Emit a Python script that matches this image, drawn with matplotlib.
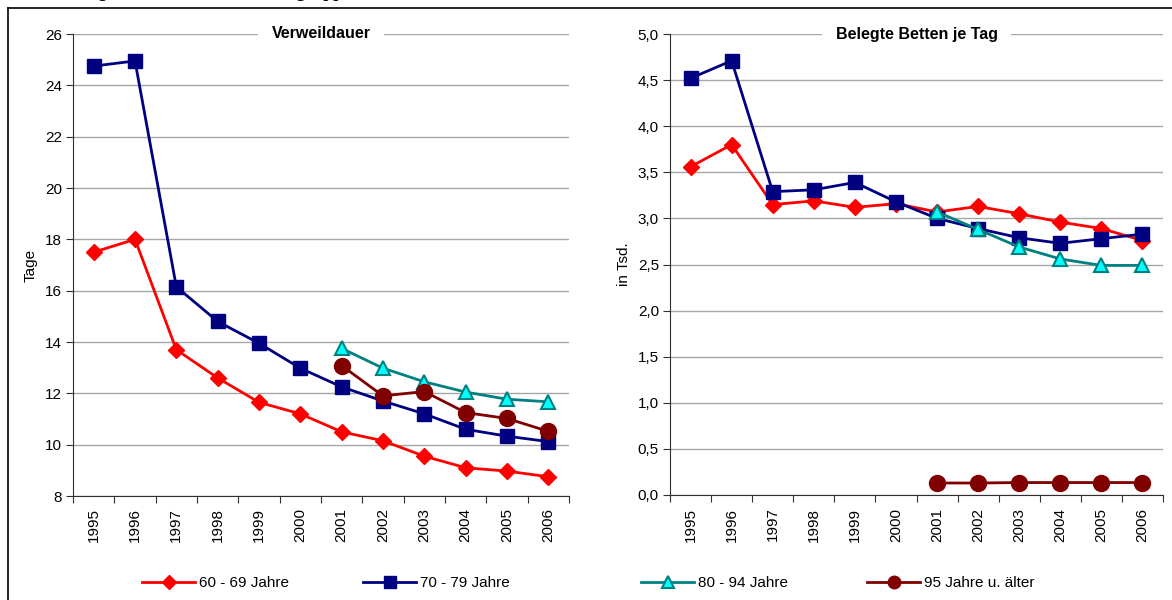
import matplotlib.pyplot as plt
from matplotlib.lines import Line2D
import numpy as np

plt.rcParams['font.family'] = ['Liberation Sans', 'DejaVu Sans']

years = ["1995", "1996", "1997", "1998", "1999", "2000",
         "2001", "2002", "2003", "2004", "2005", "2006"]

# Verweildauer (Tage)
vd_60 = [17.5, 18.0, 13.7, 12.6, 11.65, 11.2, 10.5, 10.15, 9.55, 9.1, 8.97, 8.75]
vd_70 = [24.75, 24.95, 16.15, 14.8, 13.95, 12.98, 12.25, 11.7, 11.2, 10.6, 10.33, 10.12]
vd_80 = [13.75, 12.98, 12.45, 12.05, 11.77, 11.67]
vd_95 = [13.08, 11.9, 12.07, 11.25, 11.02, 10.52]

# Belegte Betten je Tag (in Tsd.)
bb_60 = [3.56, 3.80, 3.15, 3.19, 3.12, 3.16, 3.07, 3.13, 3.05, 2.96, 2.89, 2.76]
bb_70 = [4.52, 4.71, 3.29, 3.31, 3.39, 3.18, 3.00, 2.89, 2.79, 2.73, 2.78, 2.83]
bb_80 = [3.07, 2.88, 2.69, 2.56, 2.49, 2.49]
bb_95 = [0.13, 0.13, 0.135, 0.135, 0.135, 0.135]

labels = ["60 - 69 Jahre", "70 - 79 Jahre", "80 - 94 Jahre", "95 Jahre u. älter"]

W, H = 1172, 600
fig = plt.figure(figsize=(W / 100, H / 100), dpi=100)


def px_axes(x0, x1, y0, y1):
    return fig.add_axes([x0 / W, 1 - y1 / H, (x1 - x0) / W, (y1 - y0) / H])


styles = [
    dict(color="#FF0000", marker="D", markerfacecolor="#FF0000",
         markeredgecolor="#FF0000"),
    dict(color="#000080", marker="s", markerfacecolor="#000080",
         markeredgecolor="#000080"),
    dict(color="#008080", marker="^", markerfacecolor="#00FFFF",
         markeredgecolor="#008080", markeredgewidth=1.5),
    dict(color="#800000", marker="o", markerfacecolor="#800000",
         markeredgecolor="#800000"),
]
plot_ms = [8.5, 9.5, 10.5, 11.5]
legend_ms = [7, 8, 8, 9]


def draw(ax, series, ylim, step, fmt, ylabel, title):
    x_all = np.arange(len(years))
    x_late = np.arange(6, 12)
    xs = [x_all, x_all, x_late, x_late]
    for x, y, st, ms in zip(xs, series, styles, plot_ms):
        ax.plot(x, y, linewidth=2, markersize=ms, **st, zorder=3, clip_on=False)
    ax.set_xlim(-0.5, len(years) - 0.5)
    ax.set_ylim(*ylim)
    ticks = np.arange(ylim[0], ylim[1] + step / 2, step)
    ax.set_yticks(ticks)
    ax.set_yticklabels([fmt(t) for t in ticks], fontsize=11)
    ax.set_xticks(np.arange(-0.5, len(years)), minor=False)
    ax.set_xticklabels([])
    ax.set_xticks(x_all, minor=True)
    ax.set_xticklabels(years, minor=True, rotation=90, fontsize=11)
    ax.tick_params(axis="x", which="minor", length=0, pad=9)
    ax.tick_params(axis="x", which="major", length=5, direction="out", color="#303030")
    ax.tick_params(axis="y", length=5, direction="out", color="#303030", pad=3)
    ax.grid(axis="y", color="#a6a6a6", linewidth=1)
    ax.set_axisbelow(True)
    for s in ["top", "right"]:
        ax.spines[s].set_visible(False)
    ax.spines["left"].set_color("#303030")
    ax.spines["bottom"].set_color("#303030")
    ax.set_ylabel(ylabel, fontsize=11, labelpad=5)
    ax.text(0.5, 1.0, title, transform=ax.transAxes, ha="center", va="center",
            fontsize=11.5, fontweight="bold",
            bbox=dict(facecolor="white", edgecolor="none", pad=10), zorder=5)


ax1 = px_axes(73, 569, 34, 496)
draw(ax1, [vd_60, vd_70, vd_80, vd_95], (8, 26), 2,
     lambda t: f"{t:.0f}", "Tage", "Verweildauer")

ax2 = px_axes(670, 1163, 34, 495)
draw(ax2, [bb_60, bb_70, bb_80, bb_95], (0, 5), 0.5,
     lambda t: f"{t:.1f}".replace(".", ","), "in Tsd.", "Belegte Betten je Tag")

# legend (bottom row), one entry per position
legend_x = [142, 363, 641, 867]
for st, ms, lab, lx in zip(styles, legend_ms, labels, legend_x):
    h = Line2D([0], [0], linewidth=2, markersize=ms, **st)
    fig.legend([h], [lab], loc="center left", bbox_to_anchor=(lx / W, 1 - 583 / H),
               frameon=False, fontsize=11, handlelength=3.5, handletextpad=0.2,
               borderpad=0, borderaxespad=0)

# heading cut off at the very top (only the descenders show, as in the source)
fig.text(25 / W, 1 + 3 / H, "Abbildung 5: Patienten nach Altersgruppen",
         family=["Liberation Serif", "DejaVu Serif"], fontweight="bold",
         fontsize=13, va="baseline", ha="left")

# outer frame
fig.add_artist(Line2D([8 / W, 8 / W], [0, 1 - 8 / H], color="black", linewidth=1.2))
fig.add_artist(Line2D([8 / W, 1], [1 - 8 / H, 1 - 8 / H], color="black", linewidth=1.2))

fig.savefig("out.png", dpi=100)
